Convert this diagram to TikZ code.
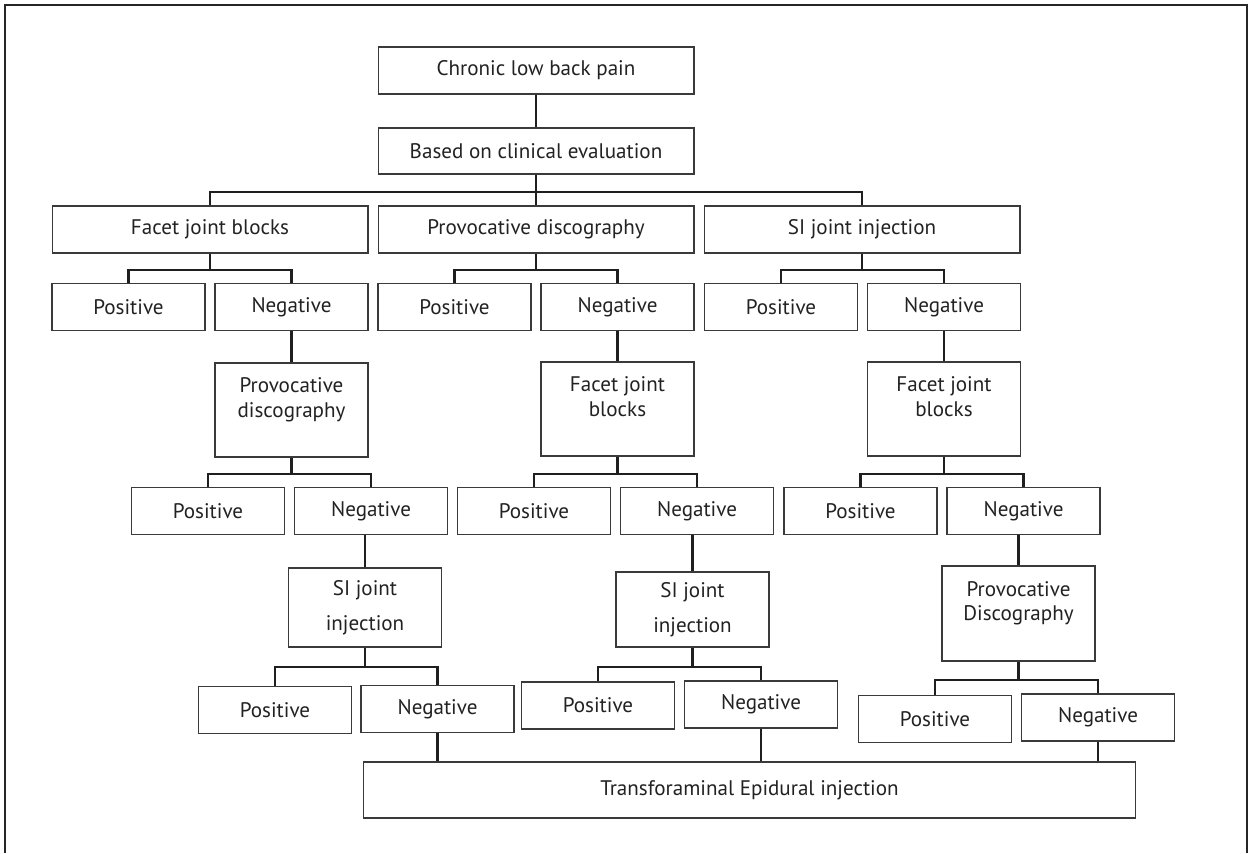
\documentclass[tikz,border=0pt]{standalone}
\usepackage{fontspec}
\setmainfont{PT Sans}

\definecolor{boxline}{HTML}{3A3A3A}
\definecolor{txt}{HTML}{222222}
\tikzset{
  box/.style={draw=boxline, line width=0.6pt, inner sep=0pt, align=center,
    minimum width=3.06cm, minimum height=0.94cm, text=txt,
    font=\fontsize{12}{14.2}\selectfont},
  widebox/.style={box, minimum width=6.32cm},
  tallbox/.style={box, minimum height=1.88cm},
  link/.style={draw=black!88, line width=1.4pt},
}

\begin{document}
\begin{tikzpicture}[x=0.02cm, y=-0.02cm]
\useasboundingbox (0,0) rectangle (1251,853);
% open frame
\draw[line width=1.1pt, black!85] (5,853) -- (5,5);
\draw[line width=1.1pt, black!85] (1247,5) -- (1247,853);
\draw[line width=1.7pt, black!85] (4,5) -- (1248,5);

% top boxes
\node[widebox] (chronic) at (536,70.5) {Chronic low back pain};
\node[widebox, minimum height=0.92cm] (clinical) at (536,151) {Based on clinical evaluation};
\draw[link] (chronic) -- (clinical);

%% first tests
\node[widebox] (facet) at (210,229.5) {Facet joint blocks};
\node[widebox] (disco) at (536,229.5) {Provocative discography};
\node[widebox] (sijoint) at (862,229.5) {SI joint injection};
\coordinate (bus) at (536,192);
\draw[link] (clinical) -- (bus);
\draw[link] (facet.north) |- (bus) -| (sijoint.north);
\draw[link] (bus) -- (disco);

%% first results
\node[box] (fpos) at (128.5,307) {Positive};
\node[box] (fneg) at (291.5,307) {Negative};
\node[box] (dpos) at (454.5,307) {Positive};
\node[box] (dneg) at (617.5,307) {Negative};
\node[box] (spos) at (781,307) {Positive};
\node[box] (sneg) at (944,307) {Negative};
\coordinate (fbus) at (210,270);
\coordinate (dbus) at (536,270);
\coordinate (sbus) at (862,270);
\draw[link] (facet) -- (fbus);
\draw[link] (fpos.north) |- (fbus) -| (fneg.north);
\draw[link] (disco) -- (dbus);
\draw[link] (dpos.north) |- (dbus) -| (dneg.north);
\draw[link] (sijoint) -- (sbus);
\draw[link] (spos.north) |- (sbus) -| (sneg.north);

%% second tests
\node[tallbox] (fdisco) at (291.5,410) {Provocative\\discography\\\mbox{}};
\node[tallbox] (dfacet) at (617.5,409) {Facet joint\\blocks\\\mbox{}};
\node[tallbox] (sfacet) at (944,409) {Facet joint\\blocks\\\mbox{}};
\draw[link] (fneg) -- (fdisco);
\draw[link] (dneg) -- (dfacet);
\draw[link] (sneg) -- (sfacet);

%% second results
\node[box] (fpos2) at (208,511) {Positive};
\node[box] (fneg2) at (371,511) {Negative};
\node[box] (dpos2) at (534,511) {Positive};
\node[box] (dneg2) at (697,511) {Negative};
\node[box] (spos2) at (860.5,511) {Positive};
\node[box] (sneg2) at (1023.5,511) {Negative};
\coordinate (fbus2) at (291.5,474);
\coordinate (dbus2) at (617.5,474);
\coordinate (sbus2) at (944,474);
\draw[link] (fdisco) -- (fbus2);
\draw[link] (fpos2.north) |- (fbus2) -| (fneg2.north);
\draw[link] (dfacet) -- (dbus2);
\draw[link] (dpos2.north) |- (dbus2) -| (dneg2.north);
\draw[link] (sfacet) -- (sbus2);
\draw[link] (spos2.north) |- (sbus2) -| (sneg2.north);

%% third tests
\node[box, minimum height=1.58cm] (fsi) at (365,607.5) {SI joint\\[6pt]injection};
\node[box, minimum height=1.5cm] (dsi) at (692.5,609.5) {SI joint\\[6pt]injection};
\node[box, minimum height=1.9cm] (sdisco) at (1018.5,613.5) {Provocative\\Discography\\\mbox{}};
\draw[link] (fsi.north) -- (fsi.north |- fneg2.south);
\draw[link] (dsi.north) -- (dsi.north |- dneg2.south);
\draw[link] (sdisco.north) -- (sdisco.north |- sneg2.south);

%% third results
\node[box] (fpos3) at (275,710) {Positive};
\node[box] (fneg3) at (437.5,709) {Negative};
\node[box] (dpos3) at (598,705.5) {Positive};
\node[box] (dneg3) at (761,704.5) {Negative};
\node[box] (spos3) at (935,719) {Positive};
\node[box] (sneg3) at (1098,717.5) {Negative};
\coordinate (fbus3) at (365,667);
\coordinate (dbus3) at (692.5,667);
\coordinate (sbus3) at (1018.5,680);
\draw[link] (fsi) -- (fbus3);
\draw[link] (fpos3.north) |- (fbus3) -| (fneg3.north);
\draw[link] (dsi) -- (dbus3);
\draw[link] (dpos3.north) |- (dbus3) -| (dneg3.north);
\draw[link] (sdisco) -- (sbus3);
\draw[link] (spos3.north) |- (sbus3) -| (sneg3.north);

% final box
\node[box, minimum width=15.46cm, minimum height=1.12cm] (tfe) at (749.5,790) {Transforaminal Epidural injection};
\draw[link] (fneg3) -- (fneg3 |- tfe.north);
\draw[link] (dneg3) -- (dneg3 |- tfe.north);
\draw[link] (sneg3) -- (sneg3 |- tfe.north);
\end{tikzpicture}
\end{document}
